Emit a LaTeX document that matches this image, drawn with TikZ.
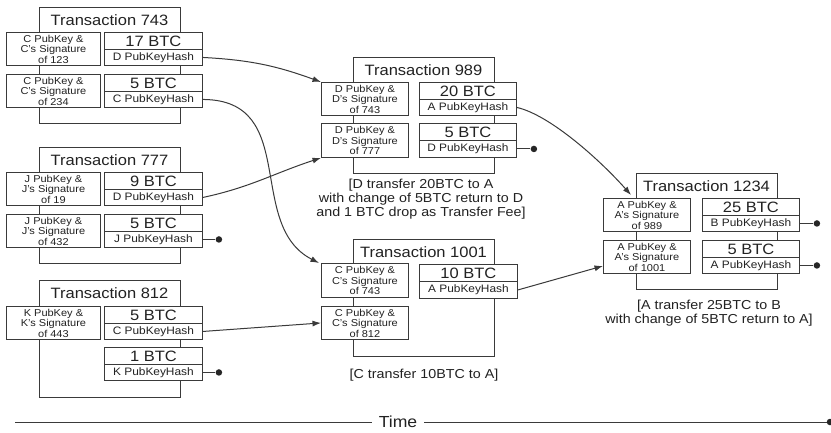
\documentclass[tikz,border=0pt]{standalone}
\usepackage{fontspec}
\setmainfont{Liberation Sans}[FakeStretch=1.1]
\usetikzlibrary{arrows.meta}
\definecolor{lc}{HTML}{3A3A3A}
\definecolor{tc}{HTML}{222222}
\tikzset{
  frm/.style={draw=lc, line width=0.9pt, fill=white, inner sep=0pt, anchor=north west, minimum width=141pt},
  bx/.style={draw=lc, line width=0.9pt, fill=white, inner sep=0pt, anchor=north west, text=tc, align=center},
  ibox/.style={bx, font=\fontsize{10}{10.5}\selectfont, minimum height=33pt},
  amt/.style={bx, font=\fontsize{15}{15}\selectfont, minimum height=17pt},
  hsh/.style={bx, font=\fontsize{10.8}{11}\selectfont, minimum height=16pt},
  ttl/.style={font=\fontsize{15}{15}\selectfont, text=tc, inner sep=0pt},
  captxt/.style={font=\fontsize{13}{14}\selectfont, text=tc, align=center, inner sep=0pt},
  dot/.style={circle, fill=black!85, inner sep=0pt, minimum size=6.5pt},
  conn/.style={draw=lc, line width=1pt},
  arr/.style={conn, -{Latex[length=8.5pt,width=6pt]}}
}
\begin{document}
\begin{tikzpicture}[x=1pt, y=-1pt]
\useasboundingbox (0,0) rectangle (831,432);
\fill[white] (0,0) rectangle (831,432);

% ---------- Transaction 743 ----------
\node[frm, minimum height=116pt] (f743) at (39,7) {};
\node[ttl] (n743) at (109.5,20) {Transaction 743};
\node[ibox, minimum width=94pt] (t743i1) at (6,32) {C PubKey \&\\C's Signature\\of 123};
\node[ibox, minimum width=94pt] (t743i2) at (6,74) {C PubKey \&\\C's Signature\\of 234};
\node[amt, minimum width=98pt] (t743o1a) at (104,32) {17 BTC};
\node[hsh, minimum width=98pt] (t743o1b) at (104,49) {D PubKeyHash};
\node[amt, minimum width=98pt] (t743o2a) at (104,74) {5 BTC};
\node[hsh, minimum width=98pt] (t743o2b) at (104,91) {C PubKeyHash};

% ---------- Transaction 777 ----------
\node[frm, minimum height=116pt] (f777) at (39,147) {};
\node[ttl] (n777) at (109.5,160) {Transaction 777};
\node[ibox, minimum width=94pt] (t777i1) at (6,172) {J PubKey \&\\J's Signature\\of 19};
\node[ibox, minimum width=94pt] (t777i2) at (6,214) {J PubKey \&\\J's Signature\\of 432};
\node[amt, minimum width=98pt] (t777o1a) at (104,172) {9 BTC};
\node[hsh, minimum width=98pt] (t777o1b) at (104,189) {D PubKeyHash};
\node[amt, minimum width=98pt] (t777o2a) at (104,214) {5 BTC};
\node[hsh, minimum width=98pt] (t777o2b) at (104,231) {J PubKeyHash};
\node[dot] (d777) at ([xshift=16pt]t777o2b.east) {};
\draw[conn] (t777o2b.east) -- (d777);

% ---------- Transaction 812 ----------
\node[frm, minimum height=117pt] (f812) at (39,280) {};
\node[ttl] (n812) at (109.5,293) {Transaction 812};
\node[ibox, minimum width=94pt] (t812i1) at (6,306) {K PubKey \&\\K's Signature\\of 443};
\node[amt, minimum width=98pt] (t812o1a) at (104,306) {5 BTC};
\node[hsh, minimum width=98pt] (t812o1b) at (104,323) {C PubKeyHash};
\node[amt, minimum width=98pt] (t812o2a) at (104,347) {1 BTC};
\node[hsh, minimum width=98pt] (t812o2b) at (104,364) {K PubKeyHash};
\node[dot] (d812) at ([xshift=16pt]t812o2b.east) {};
\draw[conn] (t812o2b.east) -- (d812);

% ---------- Transaction 989 ----------
\node[frm, minimum height=116pt] (f989) at (353,57) {};
\node[ttl] (n989) at (423.5,70) {Transaction 989};
\node[ibox, minimum width=87pt] (t989i1) at (321,82) {D PubKey \&\\D's Signature\\of 743};
\node[ibox, minimum width=87pt, minimum height=34pt] (t989i2) at (321,123) {D PubKey \&\\D's Signature\\of 777};
\node[amt, minimum width=97pt] (t989o1a) at (419,82) {20 BTC};
\node[hsh, minimum width=97pt] (t989o1b) at (419,99) {A PubKeyHash};
\node[amt, minimum width=97pt] (t989o2a) at (419,123) {5 BTC};
\node[hsh, minimum width=97pt, minimum height=17pt] (t989o2b) at (419,140) {D PubKeyHash};
\node[dot] (d989) at ([xshift=17pt]t989o2b.east) {};
\draw[conn] (t989o2b.east) -- (d989);
\node[captxt] (c989) at (421,199) {[D transfer 20BTC to A\\with change of 5BTC return to D\\and 1 BTC drop as Transfer Fee]};

% ---------- Transaction 1001 ----------
\node[frm, minimum height=117pt] (f1001) at (353,239) {};
\node[ttl] (n1001) at (423.5,252) {Transaction 1001};
\node[ibox, minimum width=87pt, minimum height=34pt] (t1001i1) at (321,263) {C PubKey \&\\C's Signature\\of 743};
\node[ibox, minimum width=87pt] (t1001i2) at (321,306) {C PubKey \&\\C's Signature\\of 812};
\node[amt, minimum width=98pt] (t1001o1a) at (419,264) {10 BTC};
\node[hsh, minimum width=98pt, minimum height=17pt] (t1001o1b) at (419,281) {A PubKeyHash};
\node[captxt] (c1001) at (424,375) {[C transfer 10BTC to A]};

% ---------- Transaction 1234 ----------
\node[frm, minimum height=116pt] (f1234) at (636,173) {};
\node[ttl] (n1234) at (706.5,186) {Transaction 1234};
\node[ibox, minimum width=87pt] (t1234i1) at (603,198) {A PubKey \&\\A's Signature\\of 989};
\node[ibox, minimum width=87pt] (t1234i2) at (603,240) {A PubKey \&\\A's Signature\\of 1001};
\node[amt, minimum width=97pt] (t1234o1a) at (702,198) {25 BTC};
\node[hsh, minimum width=97pt] (t1234o1b) at (702,215) {B PubKeyHash};
\node[amt, minimum width=97pt] (t1234o2a) at (702,240) {5 BTC};
\node[hsh, minimum width=97pt] (t1234o2b) at (702,257) {A PubKeyHash};
\node[dot] (d1234a) at ([xshift=17pt]t1234o1b.east) {};
\node[dot] (d1234b) at ([xshift=17pt]t1234o2b.east) {};
\draw[conn] (t1234o1b.east) -- (d1234a);
\draw[conn] (t1234o2b.east) -- (d1234b);
\node[captxt] (c1234) at (709,313) {[A transfer 25BTC to B\\with change of 5BTC return to A]};

% ---------- Connectors ----------
\draw[arr] (t743o1b.east) to[out=-3, in=160] (t989i1.north west);
\draw[arr] (t743o2b.east) .. controls (300,100) and (245,225) .. ([xshift=-2pt]t1001i1.north west);
\draw[arr] (t777o1b.east) to[out=12, in=198] (t989i2.south west);
\draw[arr] (t812o1b.east) -- (t1001i2.west);
\draw[arr] (t989o1b.east) .. controls (550,115) and (600,160) .. ([xshift=28pt, yshift=3pt]t1234i1.north west);
\draw[arr] (t1001o1b.east) -- ([yshift=-9pt]t1234i2.west);

% ---------- Time axis ----------
\coordinate (tl) at (15,422);
\node[font=\fontsize{16}{16}\selectfont, text=tc, inner xsep=7pt, inner ysep=0pt] (time) at (398,422) {Time};
\node[dot] (tr) at (830,422) {};
\draw[conn] (tl) -- (time.west);
\draw[conn] (time.east) -- (tr);
\end{tikzpicture}
\end{document}
